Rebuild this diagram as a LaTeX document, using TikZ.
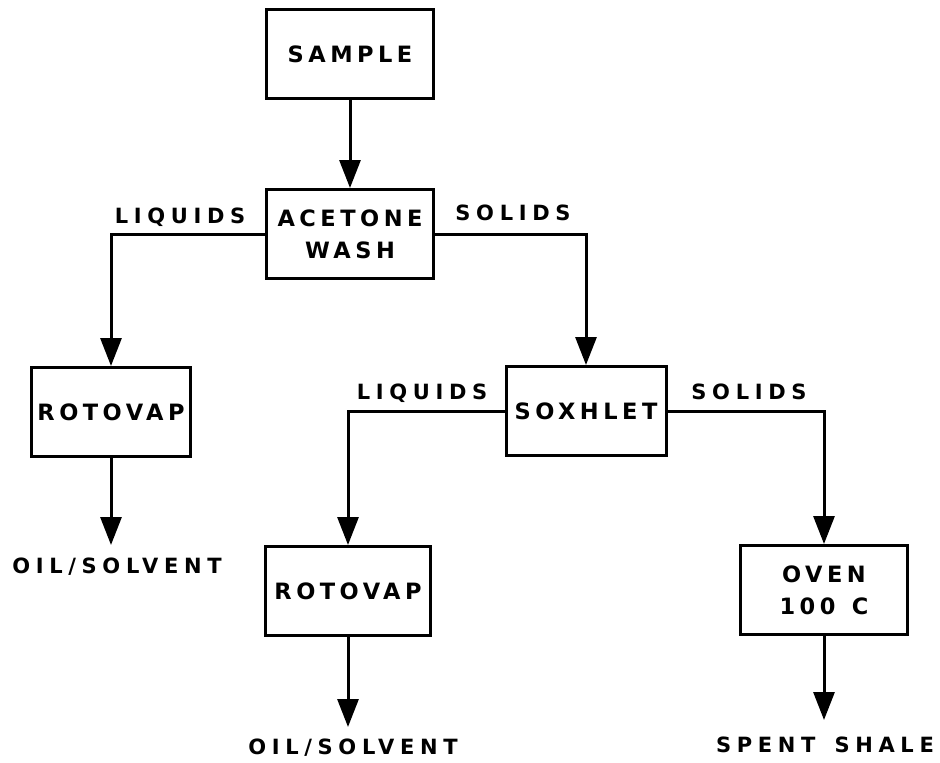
\documentclass[tikz,border=0pt]{standalone}
\usepackage{fontspec}
\newfontfamily\boxfont{DejaVu Sans Bold}[LetterSpace=20]
\newfontfamily\lblfont{DejaVu Sans Bold}[LetterSpace=27]
\usetikzlibrary{arrows.meta}
\begin{document}
\begin{tikzpicture}[x=1pt,y=-1pt,
  box/.style={draw,line width=3pt,minimum width=#1,minimum height=89pt,inner sep=0pt,align=center,
    font=\boxfont\fontsize{22.5}{32}\selectfont},
  lbl/.style={inner sep=0pt,font=\lblfont\fontsize{21}{31}\selectfont},
  arr/.style={line width=3pt,-{Triangle[length=28pt,width=21pt]}}]
\useasboundingbox (0,0) rectangle (940,763);
\node[box=167pt] (sample) at (350,54) {SAMPLE};
\node[box=167pt] (acetone) at (350,234) {ACETONE\\WASH};
\node[box=159pt] (rot1) at (111,412) {ROTOVAP};
\node[box=160pt] (sox) at (586,411) {SOXHLET};
\node[box=165pt] (rot2) at (348,591) {ROTOVAP};
\node[box=167pt] (oven) at (824,590) {OVEN\\100\hspace{4pt} C};
\node[lbl] (oil1) at (117,567) {OIL/SOLVENT};
\node[lbl] (oil2) at (353,748) {OIL/SOLVENT};
\node[lbl] (spent) at (825,745) {SPENT\hspace{6pt} SHALE};
\node[lbl] (liq1) at (180,217) {LIQUIDS};
\node[lbl] (sol1) at (513,213) {SOLIDS};
\node[lbl] (liq2) at (422,393) {LIQUIDS};
\node[lbl] (sol2) at (749,392) {SOLIDS};
\coordinate (e1) at (111,545);
\coordinate (e2) at (348,727);
\coordinate (e3) at (824,720);
\draw[arr] (sample.south) -- (acetone.north);
\draw[arr] (acetone.west) -| (rot1.north);
\draw[arr] (acetone.east) -| (sox.north);
\draw[arr] (sox.west) -| (rot2.north);
\draw[arr] (sox.east) -| (oven.north);
\draw[arr] (rot1.south) -- (e1);
\draw[arr] (rot2.south) -- (e2);
\draw[arr] (oven.south) -- (e3);
\end{tikzpicture}
\end{document}
